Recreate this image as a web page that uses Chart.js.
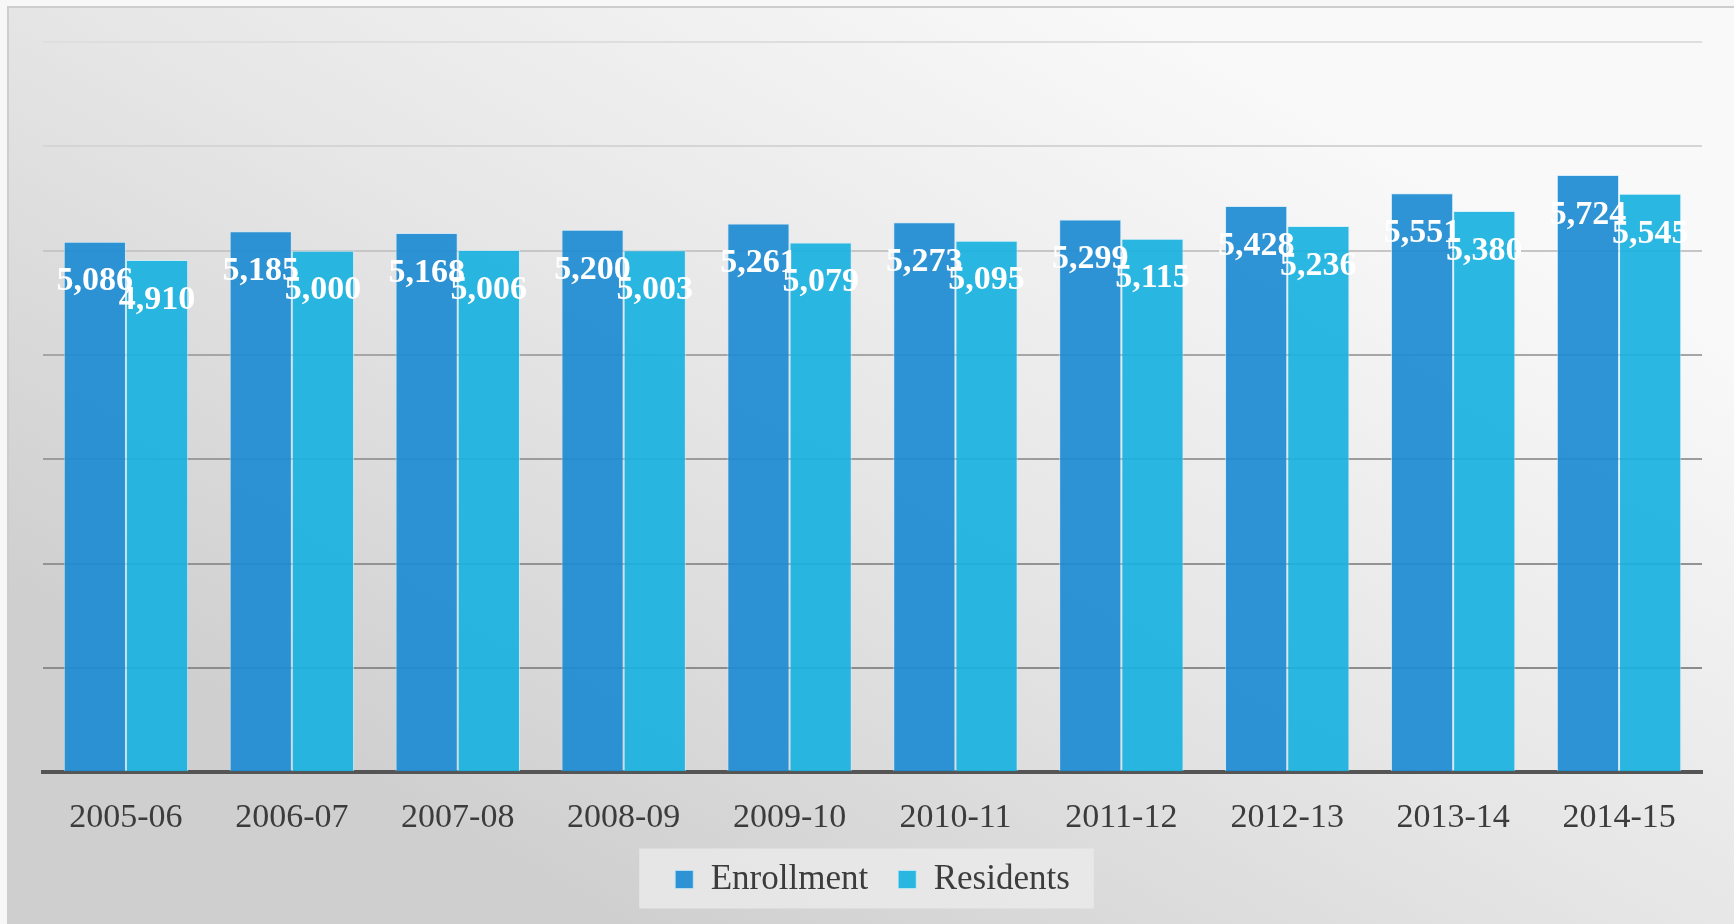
<!DOCTYPE html>
<html>
<head>
<meta charset="utf-8">
<script src="https://cdn.jsdelivr.net/npm/chart.js@4.4.1/dist/chart.umd.min.js"></script>
<style>
    html, body { margin: 0; padding: 0; background: #f7f7f7; }
    #wrap { width: 1734px; height: 924px; position: relative; }
</style>
</head>
<body>
<div id="wrap"><canvas id="chart"></canvas></div>
<script>
const categories = ['2005-06', '2006-07', '2007-08', '2008-09', '2009-10', '2010-11', '2011-12', '2012-13', '2013-14', '2014-15']
const enrollment = [5086, 5185, 5168, 5200, 5261, 5273, 5299, 5428, 5551, 5724]
const residents = [4910, 5000, 5006, 5003, 5079, 5095, 5115, 5236, 5380, 5545]
const yMax = 7000
const yStep = 1000

// grid lines go from dark near the axis to light at the top
const gridColors = ['#8a8a8a', '#8c8c8c', '#939393', '#9c9c9c', '#a6a6a6', '#c6c6c6', '#d5d5d5', '#dedede']

const serif = '"Liberation Serif", "DejaVu Serif", serif'

const backdrop = {
    id: 'backdrop',
    beforeDraw(chart) {
        const { ctx, width, height } = chart
        ctx.save()
        ctx.fillStyle = '#f7f7f7'
        ctx.fillRect(0, 0, width, height)
        const g = ctx.createLinearGradient(width * 0.65, 0, width * 0.35, height)
        g.addColorStop(0, '#f9f9f9')
        g.addColorStop(0.5, '#e6e6e6')
        g.addColorStop(1, '#cfcfcf')
        ctx.fillStyle = g
        ctx.fillRect(8, 7, width - 8, height - 7)
        ctx.strokeStyle = '#cdcdcd'
        ctx.lineWidth = 2
        ctx.beginPath()
        ctx.moveTo(8, height)
        ctx.lineTo(8, 7)
        ctx.lineTo(width, 7)
        ctx.stroke()

        // legend panel
        const hb = chart.legend.legendHitBoxes
        if (hb && hb.length) {
            const first = hb[0]
            const last = hb[hb.length - 1]
            const cy = first.top + first.height / 2
            ctx.fillStyle = 'rgba(236,236,236,0.75)'
            ctx.fillRect(first.left - 36, cy - 31, last.left + last.width + 24 - (first.left - 36), 60)
        }
        ctx.restore()
    }
}

const barLabels = {
    id: 'barLabels',
    afterDatasetsDraw(chart) {
        const { ctx } = chart
        ctx.save()
        ctx.fillStyle = '#ffffff'
        ctx.font = 'bold 34px ' + serif
        ctx.textAlign = 'center'
        ctx.textBaseline = 'middle'
        chart.data.datasets.forEach((ds, di) => {
            const meta = chart.getDatasetMeta(di)
            meta.data.forEach((bar, i) => {
                ctx.fillText(ds.data[i].toLocaleString('en-US'), bar.x, bar.y + 40)
            })
        })
        ctx.restore()
    }
}

new Chart(document.getElementById('chart'), {
    type: 'bar',
    data: {
        labels: categories,
        datasets: [{
            label: 'Enrollment',
            data: enrollment,
            backgroundColor: 'rgba(30,140,210,0.93)',
            borderColor: 'rgba(200,232,250,0.7)',
            borderWidth: 1,
        }, {
            label: 'Residents',
            data: residents,
            backgroundColor: 'rgba(26,178,224,0.93)',
            borderColor: 'rgba(200,240,252,0.7)',
            borderWidth: 1,
        }]
    },
    options: {
        responsive: true,
        maintainAspectRatio: false,
        animation: false,
        devicePixelRatio: 1,
        layout: { padding: { left: 43, right: 32, top: 42, bottom: 17 } },
        datasets: { bar: { categoryPercentage: 0.75, barPercentage: 1.0 } },
        scales: {
            x: {
                grid: { display: false, drawTicks: false },
                border: { display: true, color: '#555555', width: 4 },
                ticks: { color: '#3c3c3c', padding: 25, font: { family: serif, size: 34 } },
                afterFit: (s) => { s.height -= 31 },
            },
            y: {
                min: 0,
                max: yMax,
                ticks: { display: false, stepSize: yStep },
                grid: {
                    drawTicks: false,
                    lineWidth: 2,
                    color: (c) => gridColors[c.index] || '#dedede',
                },
                border: { display: false },
            }
        },
        plugins: {
            legend: {
                position: 'bottom',
                labels: {
                    boxWidth: 18,
                    boxHeight: 18,
                    padding: 30,
                    color: '#3c3c3c',
                    font: { family: serif, size: 35 },
                }
            },
            tooltip: { enabled: false },
        }
    },
    plugins: [backdrop, barLabels]
})
</script>
</body>
</html>
